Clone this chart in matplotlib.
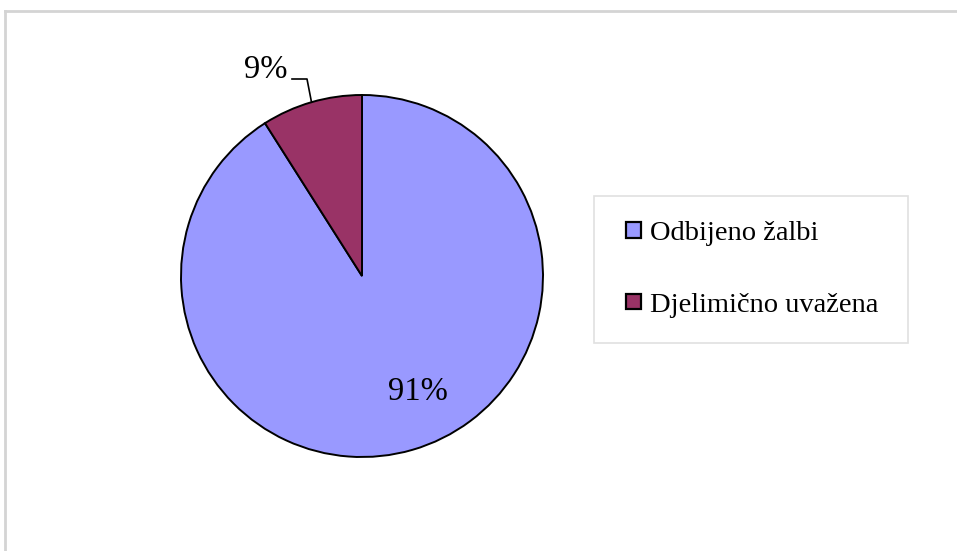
import numpy as np
import matplotlib.pyplot as plt
from matplotlib.patches import Patch, Rectangle
from matplotlib.legend_handler import HandlerPatch

labels = ['Odbijeno žalbi', 'Djelimično uvažena']
shares = [91, 9]
pct_labels = ['91%', '9%']
colors = ['#9999FF', '#993366']

plt.rcParams['font.family'] = ['Liberation Serif', 'DejaVu Serif']

W, H = 957, 551
fig = plt.figure(figsize=(W / 100, H / 100), dpi=100)
ax = fig.add_axes([0, 0, 1, 1])

cx, cy, R = 362, H - 276, 181
wedges, _ = ax.pie(shares, colors=colors, startangle=90, counterclock=False,
                   center=(cx, cy), radius=R,
                   wedgeprops=dict(edgecolor='black', linewidth=1.4))
ax.set_xlim(0, W)
ax.set_ylim(0, H)
ax.axis('off')

# big slice label inside
ax.text(418, H - 392, pct_labels[0], fontsize=23.5, ha='center', va='center')

# small slice label outside with leader line
w = wedges[1]
mid = np.deg2rad((w.theta1 + w.theta2) / 2)
ex, ey = cx + R * np.cos(mid), cy + R * np.sin(mid)
ax.plot([292, 307, ex], [H - 79, H - 79, ey], color='black', lw=1.2)
ax.text(266, H - 70, pct_labels[1], fontsize=23.5, ha='center', va='center')

# outer border of the chart area
ax.plot([5, W], [H - 11, H - 11], color='#d4d4d4', lw=2)
ax.plot([5, 5], [0, H - 11], color='#d4d4d4', lw=2)


def square_right(legend, orig_handle, xdescent, ydescent, width, height, fontsize):
    # small square pushed to the right end of the handle box
    return Rectangle((-xdescent + width - height, -ydescent), height, height)


handles = [Patch(facecolor=c, edgecolor='black', linewidth=1.6) for c in colors]
leg = ax.legend(handles, labels, loc='upper left',
                bbox_to_anchor=(594 / W, 1 - 196 / H - 0.01, 314 / W, 0.01),
                mode='expand', fontsize=20.5, frameon=True, fancybox=False,
                edgecolor='#d9d9d9', handlelength=0.78, handleheight=0.46,
                handletextpad=0.3, labelspacing=1.64, borderpad=0.88,
                borderaxespad=0,
                handler_map={Patch: HandlerPatch(patch_func=square_right)})
leg.get_frame().set_linewidth(1.2)

fig.savefig('out.png', dpi=100)
